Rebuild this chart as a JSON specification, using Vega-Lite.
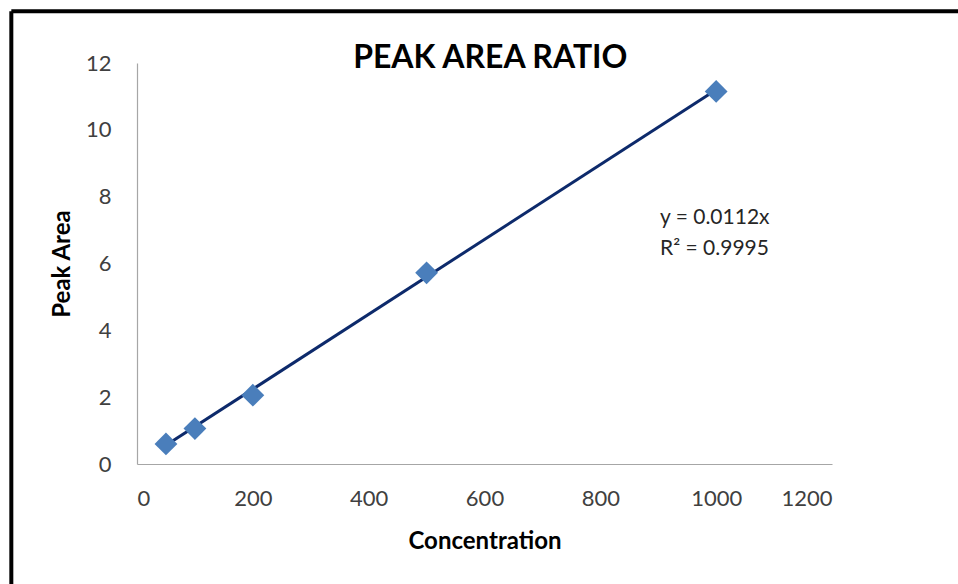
{
  "$schema": "https://vega.github.io/schema/vega-lite/v6.json",
  "autosize": {"type": "none"},
  "width": 695,
  "height": 401,
  "padding": {"left": 137, "top": 63, "right": 126, "bottom": 120},
  "background": "white",
  "config": {
    "view": {"stroke": null},
    "font": "Lato",
    "axis": {"grid": false, "ticks": false, "domainColor": "#A6A6A6", "domainWidth": 1.2, "labelColor": "#404040", "labelFontSize": 22, "labelFont": "Lato", "titleFont": "Lato", "titleFontSize": 24, "titleFontWeight": "bold", "titleColor": "black"}
  },
  "data": {"values": [
    {"conc": 50, "area": 0.6},
    {"conc": 100, "area": 1.06},
    {"conc": 200, "area": 2.06},
    {"conc": 500, "area": 5.72},
    {"conc": 1000, "area": 11.15}
  ]},
  "layer": [
    {
      "data": {"values": [{"conc": 50, "fit": 0.56}, {"conc": 1000, "fit": 11.2}]},
      "mark": {"type": "line", "color": "#0D2A6B", "strokeWidth": 3},
      "encoding": {
        "x": {"field": "conc", "type": "quantitative"},
        "y": {"field": "fit", "type": "quantitative"}
      }
    },
    {
      "mark": {"type": "point", "shape": "diamond", "filled": true, "color": "#4A7EBB", "opacity": 1, "size": 520},
      "encoding": {
        "x": {"field": "conc", "type": "quantitative", "title": "Concentration",
              "scale": {"domain": [0, 1200], "nice": false, "clamp": false},
              "axis": {"values": [0, 200, 400, 600, 800, 1000, 1200], "format": "d", "labelPadding": 24, "titlePadding": 20}},
        "y": {"field": "area", "type": "quantitative", "title": "Peak Area",
              "scale": {"domain": [0, 12], "nice": false, "clamp": false},
              "axis": {"values": [0, 2, 4, 6, 8, 10, 12], "format": "d", "labelPadding": 26, "titlePadding": 11}}
      }
    },
    {
      "data": {"values": [{"conc": 903, "area": 7.68, "eq": ["y = 0.0112x", "R² = 0.9995"]}]},
      "mark": {"type": "text", "align": "left", "baseline": "top", "fontSize": 21, "font": "Lato", "color": "#262626", "lineHeight": 31},
      "encoding": {
        "x": {"field": "conc", "type": "quantitative"},
        "y": {"field": "area", "type": "quantitative"},
        "text": {"field": "eq"}
      }
    },
    {
      "data": {"values": [{"conc": 610, "area": 11.85, "label": "PEAK AREA RATIO"}]},
      "mark": {"type": "text", "align": "center", "baseline": "alphabetic", "fontSize": 32, "font": "Lato", "fontWeight": "bold", "color": "black", "clip": false},
      "encoding": {
        "x": {"field": "conc", "type": "quantitative"},
        "y": {"field": "area", "type": "quantitative"},
        "text": {"field": "label"}
      }
    },
    {
      "data": {"values": [{"x1": -217, "x2": 1422, "ytop": 13.55}]},
      "mark": {"type": "rule", "color": "black", "strokeWidth": 4, "clip": false},
      "encoding": {
        "x": {"field": "x1", "type": "quantitative"},
        "x2": {"field": "x2"},
        "y": {"field": "ytop", "type": "quantitative"}
      }
    },
    {
      "data": {"values": [{"x1": -217, "ytop": 13.55, "ybot": -3.6}]},
      "mark": {"type": "rule", "color": "black", "strokeWidth": 4, "clip": false},
      "encoding": {
        "x": {"field": "x1", "type": "quantitative"},
        "y": {"field": "ytop", "type": "quantitative"},
        "y2": {"field": "ybot"}
      }
    }
  ]
}
